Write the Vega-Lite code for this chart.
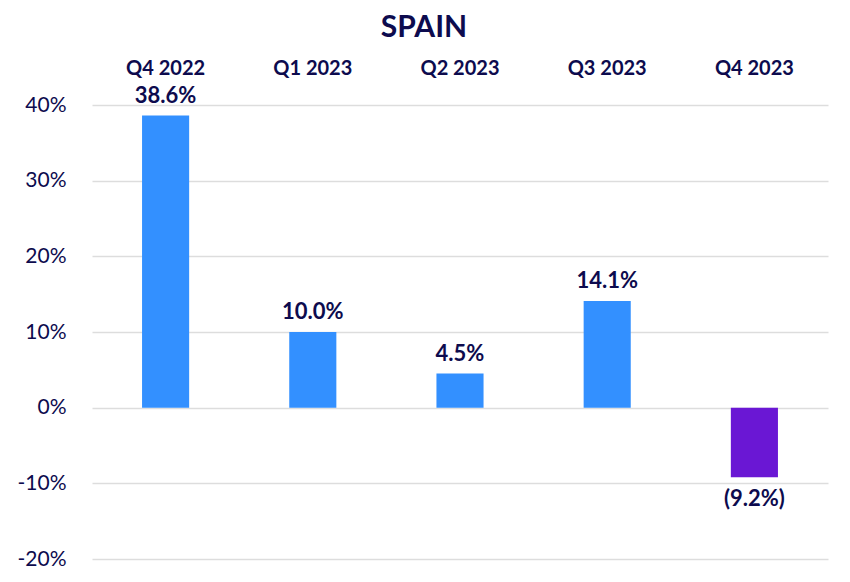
{
  "$schema": "https://vega.github.io/schema/vega-lite/v6.json",
  "autosize": {"type": "none"},
  "padding": {"left": 92, "top": 105, "right": 22, "bottom": 23},
  "width": 736,
  "height": 454,
  "background": "white",
  "title": {
    "text": "SPAIN",
    "anchor": "middle",
    "dx": -36,
    "offset": 15,
    "fontSize": 30,
    "fontWeight": "bold",
    "font": "Lato",
    "color": "#0D0B4E"
  },
  "data": {
    "values": [
      {"quarter": "Q4 2022", "value": 38.6, "label": "38.6%"},
      {"quarter": "Q1 2023", "value": 10.0, "label": "10.0%"},
      {"quarter": "Q2 2023", "value": 4.5, "label": "4.5%"},
      {"quarter": "Q3 2023", "value": 14.1, "label": "14.1%"},
      {"quarter": "Q4 2023", "value": -9.2, "label": "(9.2%)"}
    ]
  },
  "encoding": {
    "x": {
      "field": "quarter",
      "type": "nominal",
      "sort": null,
      "scale": {"paddingInner": 0.68, "paddingOuter": 0.34},
      "axis": {
        "orient": "top",
        "title": null,
        "ticks": false,
        "domain": false,
        "labelAngle": 0,
        "labelPadding": 27,
        "labelFontSize": 20,
        "labelFontWeight": "bold",
        "labelFont": "Lato",
        "labelColor": "#0D0B4E"
      }
    },
    "y": {
      "field": "value",
      "type": "quantitative",
      "scale": {"domain": [-20, 40], "nice": false},
      "axis": {
        "title": null,
        "values": [-20, -10, 0, 10, 20, 30, 40],
        "labelExpr": "datum.value + '%'",
        "ticks": false,
        "domain": false,
        "labelPadding": 26,
        "labelFontSize": 21,
        "labelFont": "Lato",
        "labelColor": "#0D0B4E",
        "gridColor": "#DDDDDD",
        "gridWidth": 1.5
      }
    }
  },
  "layer": [
    {
      "mark": {"type": "bar"},
      "encoding": {
        "color": {
          "condition": {"test": "datum.value < 0", "value": "#6A17D4"},
          "value": "#3390FF"
        }
      }
    },
    {
      "transform": [{"filter": "datum.value >= 0"}],
      "mark": {"type": "text", "baseline": "bottom", "dy": -8, "fontSize": 22, "fontWeight": "bold", "font": "Lato", "color": "#0D0B4E"},
      "encoding": {"text": {"field": "label"}}
    },
    {
      "transform": [{"filter": "datum.value < 0"}],
      "mark": {"type": "text", "baseline": "top", "dy": 12, "fontSize": 22, "fontWeight": "bold", "font": "Lato", "color": "#0D0B4E"},
      "encoding": {"text": {"field": "label"}}
    }
  ],
  "config": {"view": {"stroke": null}}
}
